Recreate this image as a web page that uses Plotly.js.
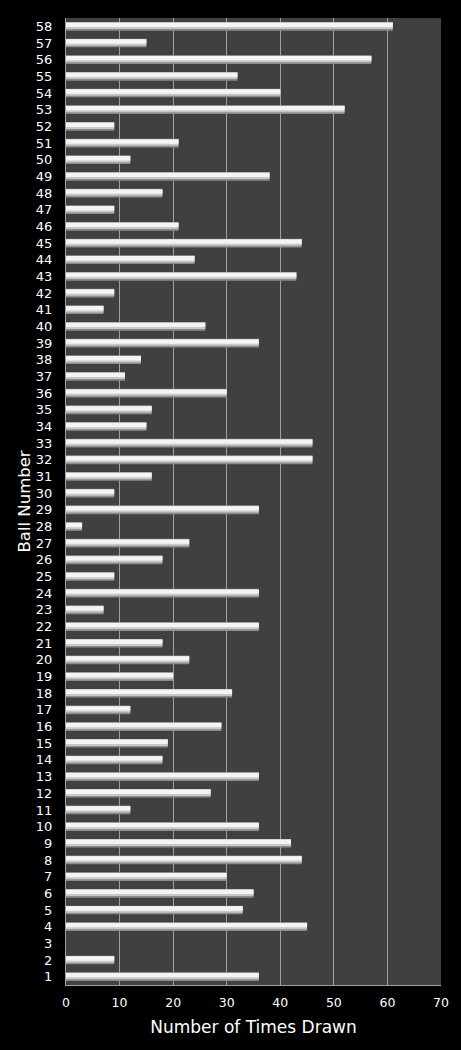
<!DOCTYPE html>
<html>
<head>
<meta charset="utf-8">
<script src="https://cdn.plot.ly/plotly-3.0.1.min.js"></script>
<style>html,body{margin:0;padding:0;background:#000;}#chart{width:461px;height:1050px;}</style>
</head>
<body>
<div id="chart"></div>
<script>
const ballNumbers = [];
for (let i = 1; i <= 58; i++) ballNumbers.push(i);
const timesDrawn = [
  36, 9, 0, 45, 33, 35, 30, 44, 42, 36,
  12, 27, 36, 18, 19, 29, 12, 31, 20, 23,
  18, 36, 7, 36, 9, 18, 23, 3, 36, 9,
  16, 46, 46, 15, 16, 30, 11, 14, 36, 26,
  7, 9, 43, 24, 44, 21, 9, 18, 38, 12,
  21, 9, 52, 40, 32, 57, 15, 61
];
const xTicks = [0, 10, 20, 30, 40, 50, 60, 70];

const base = {type: 'bar', orientation: 'h', x: timesDrawn, y: ballNumbers, hoverinfo: 'x+y', showlegend: false};
const traces = [
  Object.assign({}, base, {width: 0.52, offset: -0.26, marker: {color: '#8c8c8c', line: {width: 0}}}),
  Object.assign({}, base, {width: 0.40, offset: -0.16, marker: {color: '#c8c8c8', line: {width: 0}}}),
  Object.assign({}, base, {width: 0.26, offset: -0.04, marker: {color: '#f4f4f4', line: {width: 0}}})
];

const layout = {
  width: 461, height: 1050,
  paper_bgcolor: '#000000', plot_bgcolor: '#404040',
  margin: {l: 66, r: 20, t: 18, b: 65},
  barmode: 'overlay',
  font: {family: 'DejaVu Sans, Verdana, sans-serif', color: '#ffffff', size: 13},
  xaxis: {
    range: [0, 70], tickvals: xTicks, ticktext: xTicks.map(String),
    showgrid: true, gridcolor: '#a0a0a0', gridwidth: 1, zeroline: false,
    showline: true, linecolor: '#a0a0a0', linewidth: 1,
    ticks: '', ticklabelstandoff: 6, tickfont: {size: 12.5, color: '#ffffff'},
    title: {text: 'Number of Times Drawn', font: {size: 17, color: '#ffffff'}, standoff: 12},
    fixedrange: true
  },
  yaxis: {
    range: [0.5, 58.5], tickvals: ballNumbers, ticktext: ballNumbers.map(String),
    showgrid: false, zeroline: false,
    showline: true, linecolor: '#a0a0a0', linewidth: 1,
    ticks: '', ticklabelstandoff: 10, tickfont: {size: 13, color: '#ffffff'},
    fixedrange: true
  },
  annotations: [{
    text: 'Ball Number', textangle: -90, showarrow: false,
    xref: 'paper', yref: 'paper', x: -0.112, y: 0.5,
    xanchor: 'center', yanchor: 'middle',
    font: {size: 16.5, color: '#ffffff'}
  }]
};
Plotly.newPlot('chart', traces, layout, {displayModeBar: false, staticPlot: true});
</script>
</body>
</html>
